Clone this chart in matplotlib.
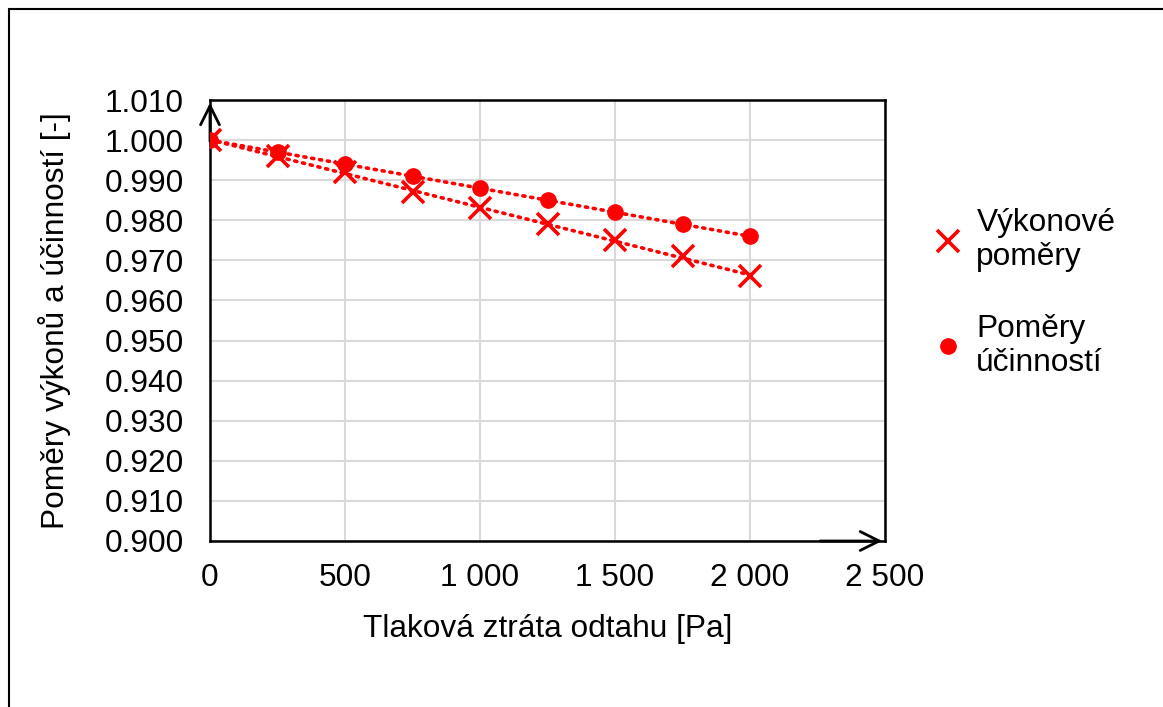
import matplotlib.pyplot as plt
from matplotlib.patches import Rectangle
from matplotlib.ticker import FuncFormatter
import numpy as np

plt.rcParams['font.family'] = ['Liberation Sans', 'DejaVu Sans']

# data
tlak = [0, 250, 500, 750, 1000, 1250, 1500, 1750, 2000]
vykon = [1.000, 0.996, 0.992, 0.987, 0.983, 0.979, 0.975, 0.971, 0.966]
ucinnost = [1.000, 0.997, 0.994, 0.991, 0.988, 0.985, 0.982, 0.979, 0.976]
label_vykon = 'Výkonové\npoměry'
label_ucin = 'Poměry\núčinností'

fs = 22.8

fig = plt.figure(figsize=(11.63, 7.07), dpi=100)
ax = fig.add_axes([210 / 1163, 1 - 541 / 707, 675 / 1163, 441 / 707])

red = '#ff0000'
x = np.array(tlak, dtype=float)

# linearni trendy (teckovane)
for y in (vykon, ucinnost):
    k, q = np.polyfit(x, y, 1)
    xs = np.array([x.min(), x.max()])
    ax.plot(xs, k * xs + q, ls=(0, (0.6, 1.6)), lw=2.6, color=red,
            dash_capstyle='round', zorder=3)

ax.plot(tlak, vykon, ls='none', marker='x', ms=16, mew=2.6, color=red,
        label=label_vykon, zorder=4)
ax.plot(tlak, ucinnost, ls='none', marker='o', ms=11, color=red,
        label=label_ucin, zorder=4)

ax.set_xlim(0, 2500)
ax.set_ylim(0.900, 1.010)
ax.set_xticks(np.arange(0, 2501, 500))
ax.set_yticks(np.arange(0.900, 1.0101, 0.010))
ax.xaxis.set_major_formatter(FuncFormatter(lambda v, p: f'{v:,.0f}'.replace(',', ' ')))
ax.yaxis.set_major_formatter(FuncFormatter(lambda v, p: f'{v:.3f}'))
ax.tick_params(length=0, labelsize=fs)
ax.tick_params(axis='y', pad=19)
ax.tick_params(axis='x', pad=16)
ax.grid(True, color='#d9d9d9', lw=1.5)
ax.set_axisbelow(True)
for s in ax.spines.values():
    s.set_linewidth(1.8)
    s.set_color('black')

# sipky na osach
ax.annotate('', xy=(0, 1), xytext=(0, 0.9), xycoords='axes fraction',
            arrowprops=dict(arrowstyle='->', lw=2, color='black', mutation_scale=34))
ax.annotate('', xy=(1, 0), xytext=(0.9, 0), xycoords='axes fraction',
            arrowprops=dict(arrowstyle='->', lw=2, color='black', mutation_scale=34))

ax.set_xlabel('Tlaková ztráta odtahu [Pa]', fontsize=fs, labelpad=15)
ax.set_ylabel('Poměry výkonů a účinností [-]', fontsize=fs, labelpad=24)

fig.legend(loc='center left', bbox_to_anchor=(901 / 1163, 1 - 293 / 707),
           frameon=False, fontsize=fs, handlelength=1.2, handletextpad=0.28,
           labelspacing=1.3)

# ramecek kolem grafu
fig.patches.append(Rectangle((9 / 1163, -0.1), 1.2, 1 - 9 / 707 + 0.1,
                             transform=fig.transFigure, fill=False,
                             edgecolor='black', lw=1.5))

fig.savefig('out.png', dpi=100)
